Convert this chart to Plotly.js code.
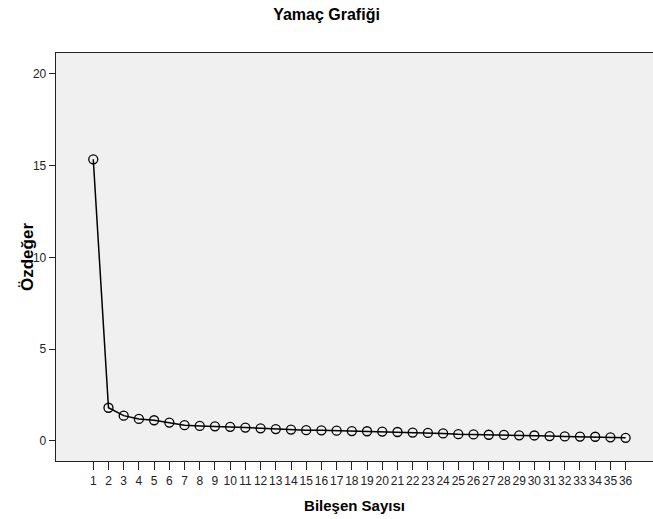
<!DOCTYPE html>
<html>
<head>
<meta charset="utf-8">
<script src="https://cdn.plot.ly/plotly-3.0.1.min.js"></script>
<style>html,body{margin:0;padding:0;background:#fff;}#chart{width:653px;height:519px;}</style>
</head>
<body>
<div id="chart"></div>
<script>
const components = [1,2,3,4,5,6,7,8,9,10,11,12,13,14,15,16,17,18,19,20,21,22,23,24,25,26,27,28,29,30,31,32,33,34,35,36];
const eigenvalues = [15.34,1.81,1.38,1.20,1.13,1.00,0.86,0.82,0.80,0.77,0.73,0.69,0.65,0.62,0.59,0.58,0.56,0.54,0.53,0.51,0.49,0.46,0.44,0.41,0.37,0.36,0.34,0.33,0.31,0.30,0.27,0.25,0.24,0.23,0.20,0.17];
const yTicks = [0,5,10,15,20];
const titleText = 'Yamaç Grafiği';
const xTitle = 'Bileşen Sayısı';
const yTitle = 'Özdeğer';

const font = 'Liberation Sans, Arial, sans-serif';
const trace = {
  x: components, y: eigenvalues, type: 'scatter', mode: 'lines+markers',
  line: {color: '#000', width: 1.5},
  marker: {symbol: 'circle-open', size: 9, color: '#000', line: {width: 1.3, color: '#000'}},
  hoverinfo: 'skip'
};
const layout = {
  width: 653, height: 519,
  margin: {l: 56, r: 0, t: 53, b: 58},
  paper_bgcolor: '#ffffff', plot_bgcolor: '#f0f0f0',
  showlegend: false,
  title: {text: '<b>' + titleText + '</b>', font: {family: font, size: 16, color: '#000'},
          x: 0.5, xref: 'container', xanchor: 'center', y: 1 - 14/519, yref: 'container', yanchor: 'middle'},
  xaxis: {
    range: [-1.45, 37.8], tickvals: components, ticktext: components.map(String),
    showgrid: false, zeroline: false, showline: true, mirror: true, linecolor: '#222', linewidth: 1.3,
    ticks: 'outside', ticklen: 8, tickwidth: 1, tickcolor: '#222',
    tickfont: {family: font, size: 12, color: '#222'}, tickangle: 0,
    title: {text: '<b>' + xTitle + '</b>', font: {family: font, size: 15, color: '#000'}, standoff: 13},
    fixedrange: true
  },
  yaxis: {
    range: [-1.09, 21.13], tickvals: yTicks, ticktext: yTicks.map(String),
    showgrid: false, zeroline: false, showline: true, mirror: false, linecolor: '#222', linewidth: 1.3,
    ticks: 'outside', ticklen: 6, tickwidth: 1, tickcolor: '#222',
    tickfont: {family: font, size: 12, color: '#222'},
    fixedrange: true
  },
  annotations: [{
    text: '<b>' + yTitle + '</b>', textangle: -90, showarrow: false,
    xref: 'paper', yref: 'paper', x: 0, y: 0.5, xanchor: 'center', yanchor: 'middle', xshift: -29,
    font: {family: font, size: 17, color: '#000'}
  }]
};
Plotly.newPlot('chart', [trace], layout, {displayModeBar: false, staticPlot: true});
</script>
</body>
</html>
